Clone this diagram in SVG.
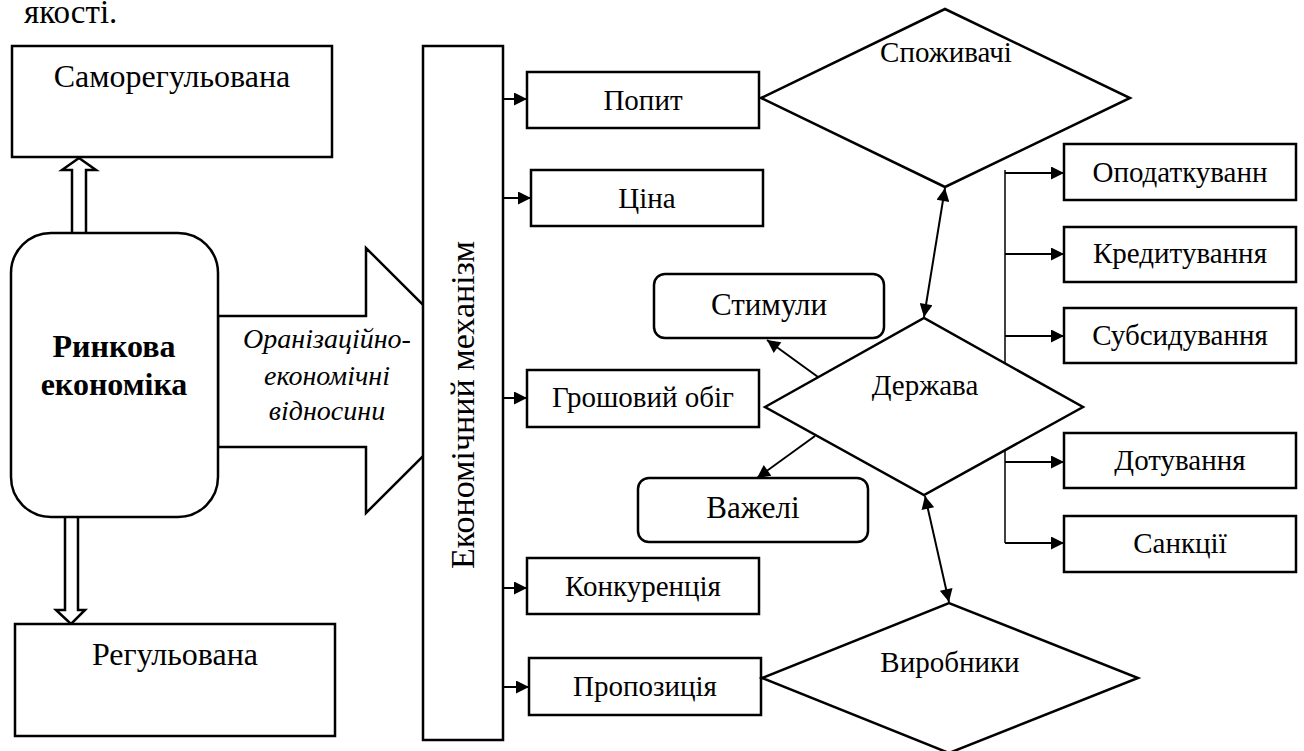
<svg xmlns="http://www.w3.org/2000/svg" width="1304" height="751" viewBox="0 0 1304 751" font-family="'Liberation Serif','Times New Roman',serif">
<style>
text{font-family:"Liberation Serif","Times New Roman",serif;fill:#000}
.t{font-size:29px;text-anchor:middle}
.tl{font-size:31px;text-anchor:middle}
.b{fill:#fff;stroke:#000;stroke-width:2.5}
.c{fill:none;stroke:#000;stroke-width:2}
.v{fill:none;stroke:#000;stroke-width:1.5}
</style>
<defs>
<marker id="ah" viewBox="0 0 10 10" refX="10" refY="5" markerUnits="userSpaceOnUse" markerWidth="16" markerHeight="13" orient="auto-start-reverse"><path d="M0,0L10,5L0,10z" fill="#000"/></marker>
</defs>
<text x="24" y="23" style="font-size:33px">якості.</text>

<g id="connectors">
<polygon class="b" points="72,236 72,170 62,170 79,158 96,170 86,170 86,236"/>
<polygon class="b" points="65,514 78,514 78,610 85,610 71,624 56,610 65,610"/>
<polygon class="b" points="218,316 366,316 366,248 499,380.5 366,513 366,447 218,447"/>
<line class="c" x1="503" y1="99" x2="527" y2="99" marker-end="url(#ah)"/>
<line class="c" x1="503" y1="198" x2="531" y2="198" marker-end="url(#ah)"/>
<line class="c" x1="503" y1="398" x2="527" y2="398" marker-end="url(#ah)"/>
<line class="c" x1="503" y1="588" x2="527" y2="588" marker-end="url(#ah)"/>
<line class="c" x1="503" y1="687" x2="529" y2="687" marker-end="url(#ah)"/>
<line class="c" x1="945" y1="188" x2="924" y2="317" marker-start="url(#ah)" marker-end="url(#ah)"/>
<line class="c" x1="925" y1="496" x2="949" y2="602" marker-start="url(#ah)" marker-end="url(#ah)"/>
<line class="c" x1="818" y1="377" x2="767" y2="340" marker-end="url(#ah)"/>
<line class="c" x1="815" y1="436" x2="757" y2="478" marker-end="url(#ah)"/>
<line class="v" x1="1005" y1="170" x2="1005" y2="368"/>
<line class="v" x1="1005" y1="450" x2="1005" y2="543"/>
<line class="c" x1="1005" y1="173" x2="1064" y2="173" marker-end="url(#ah)"/>
<line class="c" x1="1005" y1="254" x2="1064" y2="254" marker-end="url(#ah)"/>
<line class="c" x1="1005" y1="336" x2="1064" y2="336" marker-end="url(#ah)"/>
<line class="c" x1="1005" y1="462" x2="1064" y2="462" marker-end="url(#ah)"/>
<line class="c" x1="1005" y1="543" x2="1064" y2="543" marker-end="url(#ah)"/>
</g>

<g id="n-samoreg"><rect class="b" x="12" y="46" width="320" height="111"/><text x="172" y="87" style="font-size:32px;text-anchor:middle">Саморегульована</text></g>
<g id="n-reg"><rect class="b" x="15" y="624" width="320" height="112"/><text x="175" y="665" style="font-size:32px;text-anchor:middle">Регульована</text></g>
<g id="n-rynkova"><rect class="b" x="11" y="233" width="207" height="284" rx="40"/>
<text x="114" y="357" style="font-size:32px;font-weight:bold;text-anchor:middle">Ринкова</text>
<text x="114" y="395" style="font-size:32px;font-weight:bold;text-anchor:middle">економіка</text></g>
<g id="n-vidnosyny">
<text x="327" y="348" style="font-size:28px;font-style:italic;text-anchor:middle">Оранізаційно-</text>
<text x="327" y="385" style="font-size:28px;font-style:italic;text-anchor:middle">економічні</text>
<text x="327" y="420" style="font-size:28px;font-style:italic;text-anchor:middle">відносини</text></g>
<g id="n-mech"><rect class="b" x="423" y="46" width="80" height="694"/>
<text transform="translate(474,405) rotate(-90)" style="font-size:34px;text-anchor:middle">Економічний механізм</text></g>

<g id="n-popyt"><rect class="b" x="527" y="72" width="232" height="56"/><text class="t" x="643" y="110">Попит</text></g>
<g id="n-tsina"><rect class="b" x="531" y="170" width="232" height="56"/><text class="t" x="647" y="208">Ціна</text></g>
<g id="n-groshi"><rect class="b" x="527" y="370" width="232" height="57"/><text class="t" x="643" y="407">Грошовий обіг</text></g>
<g id="n-konk"><rect class="b" x="527" y="558" width="232" height="56"/><text class="t" x="643" y="596">Конкуренція</text></g>
<g id="n-propoz"><rect class="b" x="529" y="658" width="232" height="57"/><text class="t" x="645" y="696">Пропозиція</text></g>

<g id="n-stymuly"><rect class="b" x="654" y="274" width="230" height="64" rx="11"/><text class="tl" x="769" y="315">Стимули</text></g>
<g id="n-vazheli"><rect class="b" x="638" y="478" width="230" height="64" rx="11"/><text class="tl" x="753" y="518">Важелі</text></g>

<g id="n-spozh"><polygon class="b" points="761,98 945,9 1130,98 945,187"/><text class="t" x="946" y="62">Споживачі</text></g>
<g id="n-derzh"><polygon class="b" points="765,407 924,318 1083,407 924,495"/><text class="t" x="925" y="395">Держава</text></g>
<g id="n-vyrob"><polygon class="b" points="762,678 949,603 1138,678 949,753"/><text class="t" x="950" y="672">Виробники</text></g>

<g id="n-opod"><rect class="b" x="1064" y="144" width="232" height="56"/><text class="t" x="1180" y="182">Оподаткуванн</text></g>
<g id="n-kred"><rect class="b" x="1064" y="227" width="232" height="55"/><text class="t" x="1180" y="263">Кредитування</text></g>
<g id="n-subs"><rect class="b" x="1064" y="308" width="232" height="55"/><text class="t" x="1180" y="345">Субсидування</text></g>
<g id="n-dot"><rect class="b" x="1064" y="433" width="232" height="55"/><text class="t" x="1180" y="470">Дотування</text></g>
<g id="n-sank"><rect class="b" x="1064" y="516" width="232" height="56"/><text class="t" x="1180" y="553">Санкції</text></g>
</svg>
